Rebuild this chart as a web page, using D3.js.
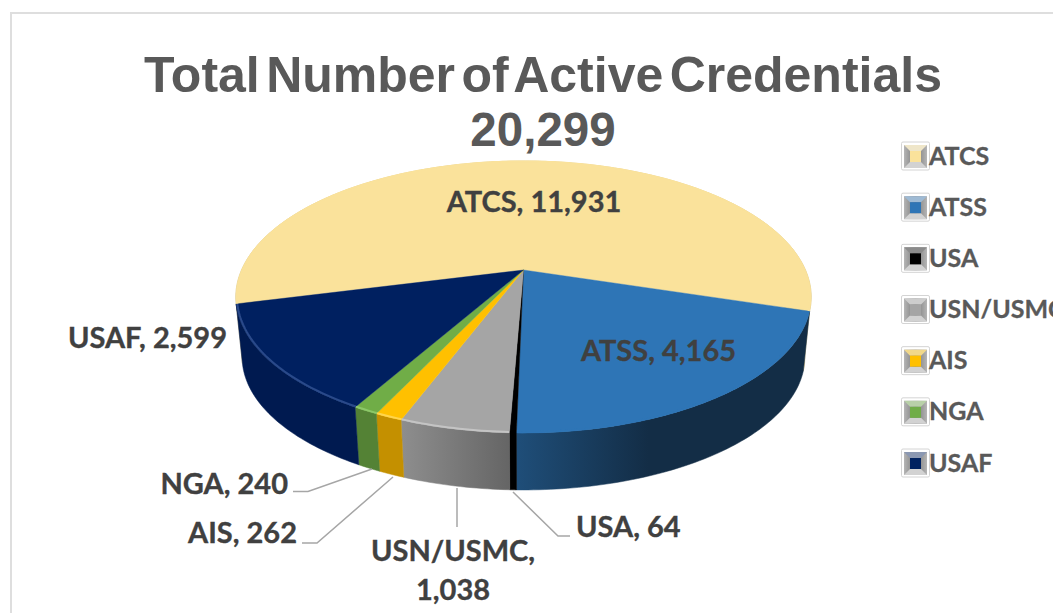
<!DOCTYPE html>
<html><head><meta charset="utf-8">
<script src="https://cdn.jsdelivr.net/npm/d3@7/dist/d3.min.js"></script>
<style>html,body{margin:0;padding:0;background:#fff;overflow:hidden}svg{display:block}</style>
</head><body><svg id="c" width="1053" height="613"></svg>
<script>
const categories=["ATCS","ATSS","USA","USN/USMC","AIS","NGA","USAF"];
const seriesValues=[11931,4165,64,1038,262,240,2599];
const valueLabels=["11,931","4,165","64","1,038","262","240","2,599"];
const topColors=["#fae29b","#2e75b6","#000000","#a5a5a5","#ffc000","#70ad47","#002060"];
const wallFrom=["#c9b57c","#1f4e79","#000000","#8e8e8e","#c49000","#548235","#001a50"];
const wallTo=["#c9b57c","#132d46","#000000","#656565","#c49000","#548235","#001a50"];
const rimColors=["#fae29b","#2e75b6","#000000","#c4c4c4","#ffd54d","#8cc868","#2a4a8a"];
const titleLines=["Total Number of Active Credentials","20,299"];

const svg=d3.select("#c");
const defs=svg.append("defs");
const W=1053,H=613;

// frame
svg.append("path").attr("d",`M${W},13 H11 V${H}`).attr("fill","none").attr("stroke","#dedede").attr("stroke-width",2);

// perspective projection of the unit disc
const cx=523.5,cy=270,A=282,B=130.6,k=0.1985,depth=57,baseScale=0.978;
function proj(theta,r,bottom){
  const u=r*Math.sin(theta),v=-r*Math.cos(theta),s=1/(1-k*v);
  const q=bottom?baseScale:1;
  return [cx+A*u*s*q, cy+B*v*s*q+(bottom?depth+163*(1-q):0)];
}
const startDeg=-104.3;
const pie=d3.pie().sort(null).startAngle(startDeg*Math.PI/180).endAngle((360+startDeg)*Math.PI/180);
const arcs=pie(seriesValues);
const line=d3.line();
function sample(a,b){const n=Math.max(3,Math.ceil((b-a)*60));return d3.range(n+1).map(i=>a+(b-a)*i/n);}

const blur=defs.append("filter").attr("id","soft").attr("x","-5%").attr("y","-5%").attr("width","110%").attr("height","110%");
blur.append("feGaussianBlur").attr("stdDeviation",0.6);

// walls
arcs.forEach((d,i)=>{
  const g=defs.append("linearGradient").attr("id","w"+i);
  g.append("stop").attr("offset","0%").attr("stop-color",wallFrom[i]);
  g.append("stop").attr("offset",i===1?"45%":"100%").attr("stop-color",wallTo[i]);
  const t=sample(d.startAngle,d.endAngle);
  const pts=t.map(a=>proj(a,1,false)).concat(t.slice().reverse().map(a=>proj(a,1,true)));
  svg.append("path").attr("d",line(pts)+"Z").attr("fill",`url(#w${i})`).attr("stroke",`url(#w${i})`).attr("stroke-width",0.5);
});
// tops
arcs.forEach((d,i)=>{
  const t=sample(d.startAngle,d.endAngle);
  const pts=[[cx,cy]].concat(t.map(a=>proj(a,1,false)));
  svg.append("path").attr("d",line(pts)+"Z").attr("fill",topColors[i]).attr("stroke",topColors[i]).attr("stroke-width",0.4);
});
// rim highlight
arcs.forEach((d,i)=>{
  const t=sample(d.startAngle,d.endAngle);
  svg.append("path").attr("d",line(t.map(a=>proj(a,0.996,false)))).attr("fill","none")
    .attr("stroke",rimColors[i]).attr("stroke-width",2).attr("filter","url(#soft)");
});

// title
svg.append("g").selectAll("text").data(titleLines).join("text")
  .attr("x",543).attr("y",(d,i)=>92+i*54).attr("text-anchor","middle")
  .attr("font-family","'Liberation Sans',Arial,sans-serif").attr("font-weight",700)
  .attr("font-size",(d,i)=>i?47.5:50).attr("word-spacing",(d,i)=>i?0:-7.5)
  .attr("fill","#595959").text(d=>d);

// data labels
const labelFont="Lato,'Open Sans',sans-serif";
const labelPos=[
 {t:[`${categories[0]}, ${valueLabels[0]}`],x:534,y:212,a:"middle"},
 {t:[`${categories[1]}, ${valueLabels[1]}`],x:658.5,y:361,a:"middle"},
 {t:[`${categories[2]}, ${valueLabels[2]}`],x:576,y:537,a:"start"},
 {t:[`${categories[3]},`,valueLabels[3]],x:453,y:561,a:"middle"},
 {t:[`${categories[4]}, ${valueLabels[4]}`],x:297,y:543,a:"end"},
 {t:[`${categories[5]}, ${valueLabels[5]}`],x:288,y:494,a:"end"},
 {t:[`${categories[6]}, ${valueLabels[6]}`],x:227,y:348,a:"end"}];
labelPos.forEach(l=>{
  l.t.forEach((s,j)=>svg.append("text").attr("x",l.x).attr("y",l.y+j*39).attr("text-anchor",l.a)
    .attr("font-family",labelFont).attr("font-weight",700).attr("font-size",29).attr("fill","#404040")
    .attr("stroke","#404040").attr("stroke-width",0.35).text(s));
});

// leader lines
const leaders=[[[293,491.5],[308,491.5],[372,469]],[[302,543],[317,543],[393,477]],[[457,488],[457,527]],[[513,492],[558,536],[570,536]]];
leaders.forEach(p=>svg.append("path").attr("d",line(p)).attr("fill","none").attr("stroke","#a6a6a6").attr("stroke-width",1.5));

// legend
const rowY=d3.scalePoint().domain(categories).range([156,463]);
const sideShade=defs.append("linearGradient").attr("id","ls");
[["0%","#b5b5b5"],["50%","#777777"],["100%","#b5b5b5"]].forEach(s=>sideShade.append("stop").attr("offset",s[0]).attr("stop-color",s[1]));
categories.forEach((c,i)=>{
  const y=rowY(c),g=svg.append("g");
  g.append("rect").attr("x",901.5).attr("y",y-14).attr("width",28).attr("height",28).attr("rx",1.5).attr("fill","#fff").attr("stroke","#d4d4d4").attr("stroke-width",1);
  const sw=g.append("g").attr("filter","url(#soft)");
  const L=904,R=927,T=y-11,Bt=y+12,a=910,b=921,e=y-5,f=y+6;
  sw.append("path").attr("d",line([[L,T],[L,Bt],[R,Bt],[R,T]])+"Z").attr("fill","url(#ls)");
  sw.append("path").attr("d",line([[L,T],[R,T],[b,e],[a,e]])+"Z").attr("fill",d3.interpolateRgb(topColors[i],"#e8e8e8")(0.6));
  sw.append("path").attr("d",line([[L,Bt],[R,Bt],[b,f],[a,f]])+"Z").attr("fill","#d2d2d2");
  sw.append("rect").attr("x",a).attr("y",e).attr("width",b-a).attr("height",f-e).attr("fill",topColors[i]);
  g.append("text").attr("x",929).attr("y",y+8.5).attr("font-family",labelFont).attr("font-weight",700).attr("font-size",25).attr("fill","#595959")
    .attr("stroke","#595959").attr("stroke-width",0.3).text(c);
});
</script></body></html>
